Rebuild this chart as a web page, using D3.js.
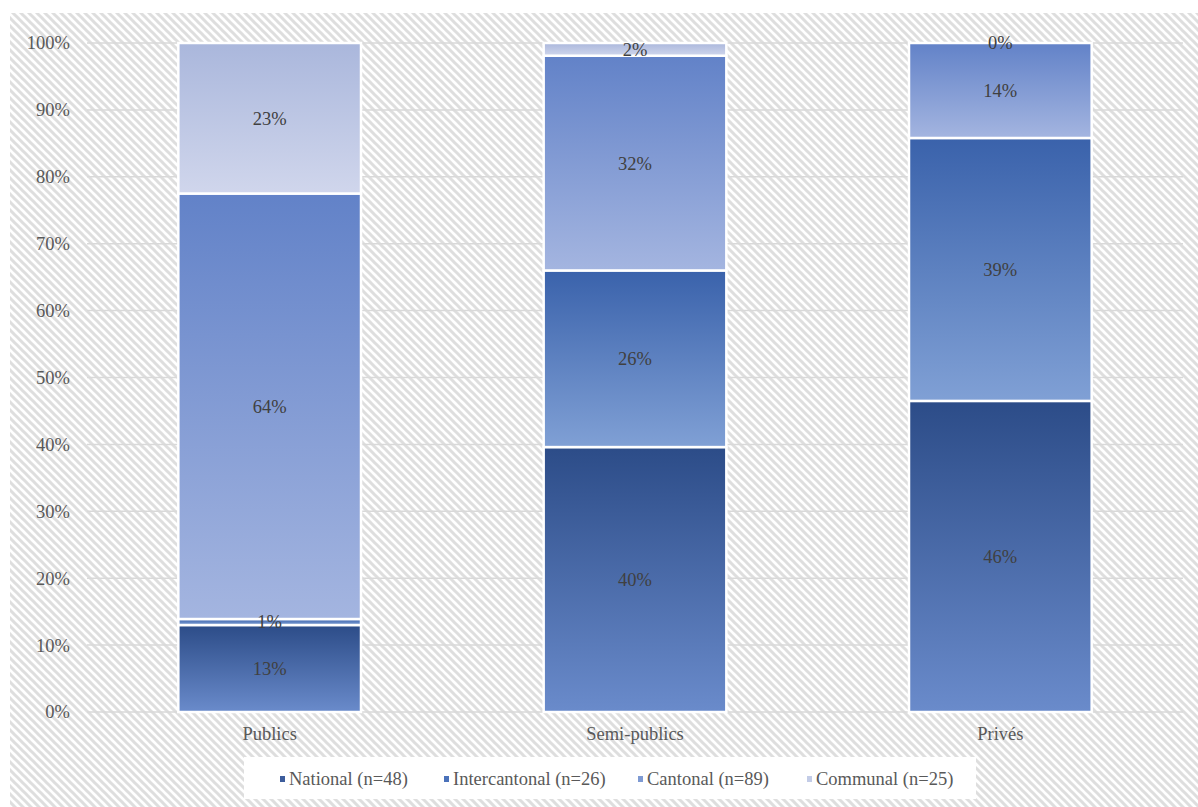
<!DOCTYPE html>
<html><head><meta charset="utf-8">
<script src="https://cdn.jsdelivr.net/npm/d3@7"></script>
<style>body{margin:0;background:#fff}svg{display:block}</style>
</head><body><svg id="c" width="1198" height="807"></svg>
<script>
const categories = ["Publics", "Semi-publics", "Privés"];
const seriesNames = ["National (n=48)", "Intercantonal (n=26)", "Cantonal (n=89)", "Communal (n=25)"];
const national = [13.0, 39.6, 46.5];
const intercantonal = [0.9, 26.4, 39.3];
const cantonal = [63.6, 32.1, 14.2];
const communal = [22.5, 1.9, 0.0];
const labels = [["13%","1%","64%","23%"],["40%","26%","32%","2%"],["46%","39%","14%","0%"]];
const yTicks = [0,10,20,30,40,50,60,70,80,90,100];

const gradTop = ["#2c4c88", "#3a62ab", "#6282c8", "#aab7dc"];
const gradBot = ["#6a8bcb", "#80a0d5", "#a4b5e0", "#d0d6ec"];
const legendCol = ["#3d5d9c", "#4b72ba", "#7e9ad3", "#c3cce7"];

const svg = d3.select("#c");
const defs = svg.append("defs");
const pat = defs.append("pattern").attr("id","hatch").attr("patternUnits","userSpaceOnUse")
  .attr("width",8).attr("height",8);
pat.append("rect").attr("width",8).attr("height",8).attr("fill","#ffffff");
pat.append("path").attr("d","M-2,-2 L10,10 M-2,6 L2,10 M6,-2 L10,2").attr("stroke","#dedede").attr("stroke-width",3);
seriesNames.forEach((s,i)=>{
  const g = defs.append("linearGradient").attr("id","g"+i).attr("x1",0).attr("y1",0).attr("x2",0).attr("y2",1);
  g.append("stop").attr("offset","0%").attr("stop-color",gradTop[i]);
  g.append("stop").attr("offset","100%").attr("stop-color",gradBot[i]);
});

svg.append("rect").attr("x",10).attr("y",13).attr("width",1188).attr("height",794).attr("fill","url(#hatch)");

const x = d3.scaleBand().domain(categories).range([87,1183]).paddingInner(0.5).paddingOuter(0.25);
const y = d3.scaleLinear().domain([0,100]).range([712,43]);
const font = "'Liberation Serif','Times New Roman',serif";
const fs = 18.5;

// grid
svg.append("g").selectAll("line").data(yTicks).join("line")
  .attr("x1",87).attr("x2",1183).attr("y1",d=>y(d)).attr("y2",d=>y(d))
  .attr("stroke","#d9d9d9").attr("stroke-width",1.5);

// y axis labels
const yAxis = d3.axisLeft(y).tickValues(yTicks).tickFormat(d=>d+"%").tickSize(0).tickPadding(0);
const ya = svg.append("g").attr("transform","translate(70,0)").call(yAxis);
ya.attr("font-family",font).attr("font-size",fs);
ya.select(".domain").remove();
ya.selectAll("text").attr("font-family",font).attr("font-size",fs).attr("fill","#595959");

// x axis labels
const xAxis = d3.axisBottom(x).tickSize(0).tickPadding(0);
const xa = svg.append("g").attr("transform","translate(0,727)").call(xAxis);
xa.attr("font-family",font).attr("font-size",fs);
xa.select(".domain").remove();
xa.selectAll("text").attr("font-family",font).attr("font-size",fs).attr("fill","#595959").attr("dy","0.71em");

// stack
const rows = categories.map((c,i)=>({cat:c, s0:national[i], s1:intercantonal[i], s2:cantonal[i], s3:communal[i]}));
const stack = d3.stack().keys(["s0","s1","s2","s3"])(rows);
const gBars = svg.append("g");
stack.forEach((layer,si)=>{
  layer.forEach((d,ci)=>{
    const cat = categories[ci];
    const h = y(d[0]) - y(d[1]);
    if (h > 0.01) {
      gBars.append("rect").attr("x",x(cat)).attr("width",x.bandwidth())
        .attr("y",y(d[1])).attr("height",h)
        .attr("fill","url(#g"+si+")").attr("stroke","#ffffff").attr("stroke-width",2.5);
    }
  });
});
stack.forEach((layer,si)=>{
  layer.forEach((d,ci)=>{
    const cat = categories[ci];
    svg.append("text").attr("x",x(cat)+x.bandwidth()/2).attr("y",(y(d[0])+y(d[1]))/2)
      .attr("dy","0.35em").attr("text-anchor","middle")
      .attr("font-family",font).attr("font-size",fs).attr("fill","#404040")
      .text(labels[ci][si]);
  });
});

// legend
svg.append("rect").attr("x",244).attr("y",757).attr("width",732).attr("height",42).attr("fill","#ffffff");
const legX = [289, 453, 647, 816];
seriesNames.forEach((s,i)=>{
  svg.append("rect").attr("x",legX[i]-9).attr("y",776).attr("width",5).attr("height",6).attr("fill",legendCol[i]);
  svg.append("text").attr("x",legX[i]).attr("y",779).attr("dy","0.35em")
    .attr("font-family",font).attr("font-size",fs).attr("fill","#595959").text(s);
});
</script></body></html>
